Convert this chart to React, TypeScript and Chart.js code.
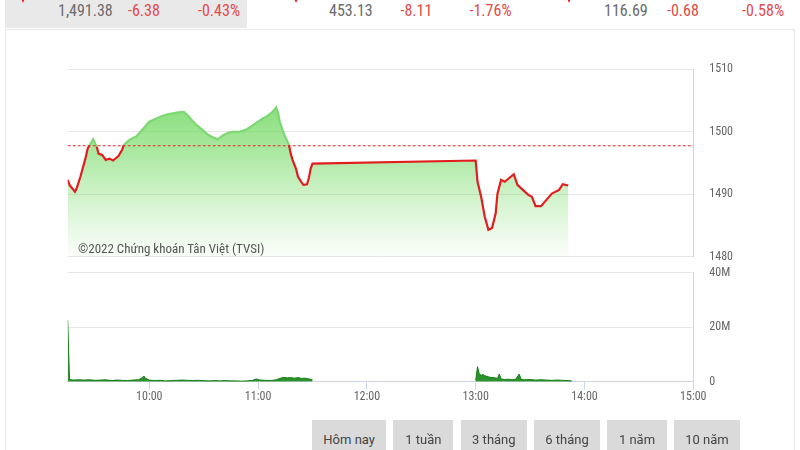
import React, { useEffect, useRef } from 'react';
import { Chart, registerables } from 'chart.js';

Chart.register(...registerables);

const NARROW = "'Liberation Sans Narrow', 'Roboto Condensed', 'DejaVu Sans Condensed', 'Arial Narrow', sans-serif";

// ---------- data ----------
const quoteValues = ['1,491.38', '453.13', '116.69'];
const quoteChanges = ['-6.38', '-8.11', '-0.68'];
const quotePercents = ['-0.43%', '-1.76%', '-0.58%'];

const INDEX_CLOSE = 1491.38;
const INDEX_CHANGE = -6.38;
const REF_PRICE = INDEX_CLOSE - INDEX_CHANGE;

const priceTimes = [
  '9:15', '9:16', '9:19', '9:20', '9:22', '9:24', '9:25', '9:26', '9:27', '9:29',
  '9:31', '9:32', '9:34', '9:36', '9:38', '9:40', '9:43', '9:45', '9:46', '9:49',
  '9:53', '9:56', '10:00', '10:06', '10:10', '10:16', '10:19', '10:21', '10:23', '10:26',
  '10:29', '10:32', '10:35', '10:38', '10:40', '10:43', '10:46', '10:50', '10:53', '10:56',
  '10:59', '11:03', '11:05', '11:08', '11:10', '11:11', '11:12', '11:14', '11:17', '11:18',
  '11:19', '11:21', '11:22', '11:24', '11:25', '11:27', '11:28', '11:29', '11:30',
  '13:00', '13:01', '13:03', '13:05', '13:07', '13:09', '13:11', '13:12', '13:14', '13:16',
  '13:21', '13:23', '13:26', '13:29', '13:31', '13:33', '13:36', '13:39', '13:42', '13:46',
  '13:48', '13:51',
];
const priceValues = [
  1492.3, 1491.5, 1490.4, 1491.0, 1492.8, 1494.9, 1496.0, 1497.3, 1497.8, 1498.8,
  1497.6, 1496.5, 1496.3, 1495.5, 1495.7, 1495.4, 1496.1, 1497.1, 1497.9, 1498.7,
  1499.3, 1500.3, 1501.6, 1502.4, 1502.8, 1503.1, 1503.2, 1502.7, 1502.0, 1501.1,
  1500.4, 1499.6, 1499.1, 1498.8, 1499.3, 1499.8, 1500.0, 1500.0, 1500.3, 1500.8,
  1501.4, 1502.2, 1502.5, 1503.2, 1503.9, 1503.0, 1501.6, 1499.8, 1497.9, 1496.5,
  1495.5, 1494.0, 1492.8, 1491.9, 1491.5, 1491.6, 1492.6, 1494.1, 1494.9,
  1495.4, 1492.0, 1489.6, 1486.4, 1484.3, 1484.6, 1486.9, 1490.1, 1492.3, 1492.0,
  1493.2, 1491.5, 1490.7, 1489.9, 1489.6, 1488.1, 1488.1, 1489.1, 1490.1, 1490.7,
  1491.6, 1491.4,
];

const volMorningTimes = [
  '9:15', '9:16', '9:18', '9:21', '9:24', '9:27', '9:30', '9:33', '9:36', '9:39',
  '9:42', '9:45', '9:48', '9:51', '9:54', '9:56', '9:57', '9:58', '10:00', '10:03',
  '10:06', '10:09', '10:12', '10:15', '10:18', '10:21', '10:24', '10:27', '10:30', '10:33',
  '10:36', '10:39', '10:42', '10:45', '10:48', '10:51', '10:54', '10:57', '10:59', '11:01',
  '11:04', '11:07', '11:10', '11:12', '11:14', '11:16', '11:18', '11:20', '11:22', '11:24',
  '11:26', '11:28', '11:30',
];
const volMorningValues = [
  22.5, 0.8, 0.6, 0.7, 0.6, 0.7, 0.5, 0.6, 0.7, 0.4,
  0.6, 0.5, 0.4, 0.6, 0.7, 1.4, 2.1, 1.2, 0.6, 0.4,
  0.5, 0.3, 0.4, 0.5, 0.6, 0.5, 0.4, 0.5, 0.4, 0.3,
  0.4, 0.3, 0.4, 0.3, 0.3, 0.2, 0.3, 0.5, 1.0, 0.6,
  0.5, 0.4, 0.7, 1.2, 1.6, 1.4, 1.5, 1.3, 1.5, 1.2,
  1.3, 1.0, 0.8,
];
const volAfternoonTimes = [
  '13:00', '13:01', '13:02', '13:03', '13:04', '13:05', '13:06', '13:07', '13:08', '13:10',
  '13:12', '13:13', '13:14', '13:16', '13:18', '13:20', '13:22', '13:24', '13:25', '13:27',
  '13:30', '13:33', '13:36', '13:39', '13:42', '13:45', '13:48', '13:51', '13:53',
];
const volAfternoonValues = [
  0.5, 5.5, 2.8, 2.4, 2.6, 2.2, 2.0, 1.8, 1.6, 1.5,
  1.2, 2.8, 1.0, 0.8, 0.9, 0.7, 0.9, 2.8, 0.9, 0.7,
  0.8, 0.6, 0.7, 0.6, 0.5, 0.6, 0.5, 0.4, 0.3,
];

const xTickTimes = ['10:00', '11:00', '12:00', '13:00', '14:00', '15:00'];
const priceTicks = [1480, 1490, 1500, 1510];
const volumeTicks = [0, 20, 40];
const SESSION_START = '9:15';
const SESSION_END = '15:00';
const LUNCH_GAP = '12:00';

const rangeButtons = ['Hôm nay', '1 tuần', '3 tháng', '6 tháng', '1 năm', '10 năm'];
const watermark = '©2022 Chứng khoán Tân Việt (TVSI)';

// ---------- layout (styles only) ----------
const quoteNumLeft = [58, 329, 604];
const quoteChgLeft = [128, 400.5, 667];
const quotePctLeft = [198, 469.5, 742];
const quoteArrowLeft = [20.2, 293.2, 566];
const buttonLeft = [312.3, 393.3, 461, 534, 607.3, 674];
const buttonWidth = [73.7, 60, 65.7, 66, 59.4, 66];

const AREA_LEFT = 67.7;
const AREA_RIGHT = 693.3;
const PRICE_TOP = 69.3;
const PRICE_BOTTOM = 256.7;
const VOL_TOP = 272.7;
const VOL_BOTTOM = 381.7;
const PRICE_CANVAS_H = 265;
const VOL_CANVAS_TOP = 265;
const VOL_CANVAS_H = 185;

const toMin = (t: string) => {
  const [h, m] = t.split(':').map(Number);
  return h * 60 + m;
};
const fmtTime = (v: number) => {
  const h = Math.floor(v / 60);
  const m = v % 60;
  return `${h}:${m < 10 ? '0' : ''}${m}`;
};

const RED = '#e31d1d';
const GREEN_LINE = '#7dd873';

const noPad = (s: any) => {
  s.paddingTop = 0;
  s.paddingBottom = 0;
  s.paddingLeft = 0;
  s.paddingRight = 0;
};

export default function App() {
  const priceRef = useRef<HTMLCanvasElement>(null);
  const volRef = useRef<HTMLCanvasElement>(null);

  useEffect(() => {
    const xMin = toMin(SESSION_START);
    const xMax = toMin(SESSION_END);
    const axisFont = { family: NARROW, size: 12 };

    const priceData = priceTimes.map((t, i) => ({ x: toMin(t), y: priceValues[i] }));
    const refData = [
      { x: xMin, y: REF_PRICE },
      { x: xMax, y: REF_PRICE },
    ];

    const priceChart = new Chart(priceRef.current!, {
      type: 'line',
      data: {
        datasets: [
          {
            data: refData,
            borderColor: '#e02b2b',
            borderWidth: 1,
            borderDash: [3, 2],
            pointRadius: 0,
            fill: false,
          },
          {
            data: priceData,
            borderWidth: 2.2,
            pointRadius: 0,
            tension: 0,
            fill: false,
            borderColor: RED,
            segment: {
              borderColor: (ctx: any) =>
                (ctx.p0.parsed.y + ctx.p1.parsed.y) / 2 < REF_PRICE ? RED : GREEN_LINE,
            },
          },
          {
            data: priceData,
            borderWidth: 0,
            borderColor: 'rgba(0,0,0,0)',
            pointRadius: 0,
            tension: 0,
            fill: 'start',
            backgroundColor: (ctx: any) => {
              const chart = ctx.chart;
              const area = chart.chartArea;
              if (!area) return 'rgba(120,218,105,0.5)';
              const g = chart.ctx.createLinearGradient(0, area.top, 0, area.bottom);
              g.addColorStop(0, 'rgba(104,212,88,0.97)');
              g.addColorStop(0.45, 'rgba(116,218,100,0.6)');
              g.addColorStop(1, 'rgba(140,225,125,0.04)');
              return g;
            },
          },
        ],
      },
      options: {
        responsive: false,
        animation: false,
        events: [],
        layout: {
          padding: {
            left: AREA_LEFT,
            top: PRICE_TOP,
            right: 0,
            bottom: PRICE_CANVAS_H - PRICE_BOTTOM,
          },
        },
        plugins: { legend: { display: false }, tooltip: { enabled: false } },
        scales: {
          x: { type: 'linear', min: xMin, max: xMax, display: false },
          y: {
            position: 'right',
            min: priceTicks[0],
            max: priceTicks[priceTicks.length - 1],
            afterBuildTicks: (s: any) => {
              s.ticks = priceTicks.map((v) => ({ value: v }));
            },
            afterFit: (s: any) => {
              s.width = 800 - AREA_RIGHT;
              noPad(s);
            },
            ticks: {
              padding: 16,
              color: '#666666',
              font: axisFont,
              callback: (v: any) => String(v),
            },
            grid: { color: '#e6e6e6', drawTicks: false },
            border: { display: true, color: '#ccd6eb' },
          },
        },
      },
    } as any);

    const volData: any[] = [
      ...volMorningTimes.map((t, i) => ({ x: toMin(t), y: volMorningValues[i] * 1e6 })),
      { x: toMin(LUNCH_GAP), y: null },
      ...volAfternoonTimes.map((t, i) => ({ x: toMin(t), y: volAfternoonValues[i] * 1e6 })),
    ];

    const volChart = new Chart(volRef.current!, {
      type: 'line',
      data: {
        datasets: [
          {
            data: volData,
            borderColor: '#167f16',
            backgroundColor: '#2b922b',
            borderWidth: 1,
            pointRadius: 0,
            tension: 0,
            fill: 'origin',
            spanGaps: false,
          },
        ],
      },
      options: {
        responsive: false,
        animation: false,
        events: [],
        layout: {
          padding: { left: AREA_LEFT, top: VOL_TOP - VOL_CANVAS_TOP, right: 0, bottom: 0 },
        },
        plugins: { legend: { display: false }, tooltip: { enabled: false } },
        scales: {
          x: {
            type: 'linear',
            min: xMin,
            max: xMax,
            afterBuildTicks: (s: any) => {
              s.ticks = xTickTimes.map((t) => ({ value: toMin(t) }));
            },
            afterFit: (s: any) => {
              s.height = VOL_CANVAS_H - (VOL_BOTTOM - VOL_CANVAS_TOP);
              noPad(s);
            },
            ticks: {
              padding: 0,
              maxRotation: 0,
              autoSkip: false,
              color: '#666666',
              font: axisFont,
              callback: (v: any) => fmtTime(Number(v)),
            },
            grid: { drawOnChartArea: false, drawTicks: true, tickLength: 8, color: '#ccd6eb' },
            border: { display: true, color: '#ccd6eb' },
          },
          y: {
            position: 'right',
            min: 0,
            max: volumeTicks[volumeTicks.length - 1] * 1e6,
            afterBuildTicks: (s: any) => {
              s.ticks = volumeTicks.map((v) => ({ value: v * 1e6 }));
            },
            afterFit: (s: any) => {
              s.width = 800 - AREA_RIGHT;
              noPad(s);
            },
            ticks: {
              padding: 16,
              color: '#666666',
              font: axisFont,
              callback: (v: any) => (Number(v) === 0 ? '0' : `${Number(v) / 1e6}M`),
            },
            grid: { color: '#e6e6e6', drawTicks: false },
            border: { display: true, color: '#ccd6eb' },
          },
        },
      },
    } as any);

    return () => {
      priceChart.destroy();
      volChart.destroy();
    };
  }, []);

  const quoteText = (left: number, text: string, color: string, key: string) => (
    <span
      key={key}
      style={{
        position: 'absolute',
        left,
        top: 0,
        fontFamily: NARROW,
        fontSize: 16,
        lineHeight: '22px',
        color,
        whiteSpace: 'nowrap',
      }}
    >
      {text}
    </span>
  );

  return (
    <div
      style={{
        position: 'absolute',
        left: 0,
        top: 0,
        width: 800,
        height: 450,
        overflow: 'hidden',
        background: '#ffffff',
      }}
    >
      <div style={{ position: 'absolute', left: 5, top: 0, width: 242, height: 28, background: '#e9e9e9' }} />
      {quoteArrowLeft.map((l, i) => (
        <div
          key={'a' + i}
          style={{
            position: 'absolute',
            left: l,
            top: -4,
            width: 0,
            height: 0,
            borderLeft: '3.5px solid transparent',
            borderRight: '3.5px solid transparent',
            borderTop: '7px solid #e52222',
          }}
        />
      ))}
      {quoteValues.map((v, i) => quoteText(quoteNumLeft[i], v, '#6b6b6b', 'n' + i))}
      {quoteChanges.map((v, i) => quoteText(quoteChgLeft[i], v, '#e24a4a', 'c' + i))}
      {quotePercents.map((v, i) => quoteText(quotePctLeft[i], v, '#e24a4a', 'p' + i))}

      <div
        style={{
          position: 'absolute',
          left: 5,
          top: 29,
          width: 790,
          height: 440,
          boxSizing: 'border-box',
          border: '1px solid #e8e8e8',
        }}
      />

      <canvas
        ref={priceRef}
        width={800}
        height={PRICE_CANVAS_H}
        style={{ position: 'absolute', left: 0, top: 0, display: 'block' }}
      />
      <canvas
        ref={volRef}
        width={800}
        height={VOL_CANVAS_H}
        style={{ position: 'absolute', left: 0, top: VOL_CANVAS_TOP, display: 'block' }}
      />

      <span
        style={{
          position: 'absolute',
          left: 78,
          top: 241,
          fontFamily: NARROW,
          fontSize: 13,
          lineHeight: '16px',
          color: '#555555',
          whiteSpace: 'nowrap',
        }}
      >
        {watermark}
      </span>

      {rangeButtons.map((b, i) => (
        <div
          key={'b' + i}
          style={{
            position: 'absolute',
            left: buttonLeft[i],
            top: 420,
            width: buttonWidth[i],
            height: 40,
            lineHeight: '40px',
            background: '#dadada',
            color: '#444444',
            fontFamily: 'Roboto, sans-serif',
            fontSize: 13,
            textAlign: 'center',
            whiteSpace: 'nowrap',
          }}
        >
          {b}
        </div>
      ))}
    </div>
  );
}
